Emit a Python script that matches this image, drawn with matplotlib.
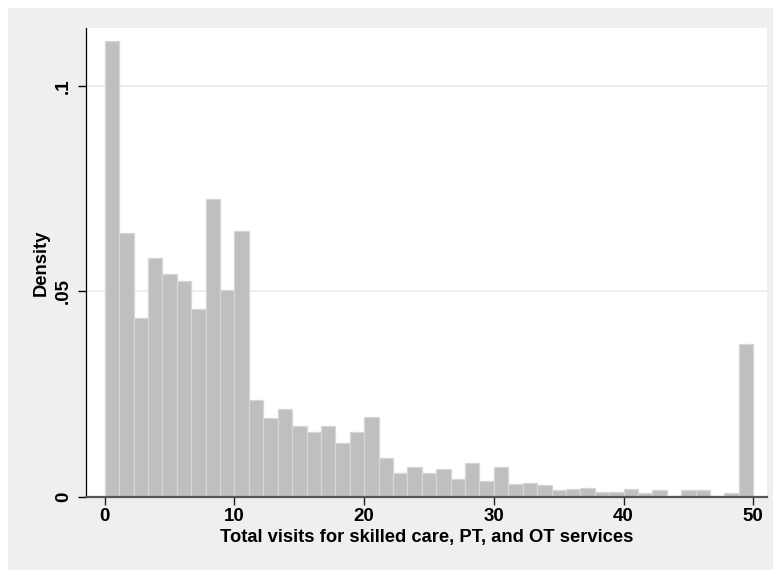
"""
Histogram of total visits (Stata-style density histogram)
"""
import matplotlib.pyplot as plt
import numpy as np
from matplotlib.patches import Rectangle

plt.rcParams['font.family'] = ['Liberation Sans', 'DejaVu Sans']

# 45 bins of equal width from 0 to 50
bin_lo = 0.0
bin_hi = 50.0
n_bins = 45
density = [
    0.1110, 0.0642, 0.0436, 0.0582, 0.0542, 0.0525, 0.0457, 0.0726, 0.0504, 0.0648,
    0.0235, 0.0193, 0.0213, 0.0172, 0.0158, 0.0172, 0.0131, 0.0158, 0.0195, 0.0096,
    0.0059, 0.0074, 0.0059, 0.0067, 0.0045, 0.0083, 0.0038, 0.0074, 0.0032, 0.0035,
    0.0028, 0.0016, 0.0020, 0.0023, 0.0013, 0.0013, 0.0019, 0.0010, 0.0017, 0.0002,
    0.0016, 0.0016, 0.0002, 0.0010, 0.0372,
]
x_ticks = [0, 10, 20, 30, 40, 50]
y_ticks = [0, 0.05, 0.1]
y_ticklabels = ['0', '.05', '.1']

COLORS = {
    'bg': '#efefef',
    'bar': '#bfbfbf',
    'bar_edge': '#d6d6d6',
    'grid': '#eaeaea',
    'xaxis': '#555555',
    'text': '#000000',
}

W, H = 773, 570
fig = plt.figure(figsize=(W / 100, H / 100), dpi=100, facecolor='white')
# gray graph region, leaving a thin white strip on top and left
fig.patches.append(Rectangle((8 / W, 0), 1, (H - 8) / H, transform=fig.transFigure,
                             facecolor=COLORS['bg'], edgecolor='none', zorder=-10))

ax = fig.add_axes([86 / W, (H - 497) / H, (767 - 86) / W, (497 - 28) / H])
ax.set_facecolor('white')

width = (bin_hi - bin_lo) / n_bins
edges = bin_lo + width * np.arange(n_bins)
ax.bar(edges, density, width=width, align='edge', color=COLORS['bar'],
       edgecolor=COLORS['bar_edge'], linewidth=0.9, zorder=2)

ax.set_xlim(-1.45, 51.06)
ax.set_ylim(0, 0.1141)

for v in y_ticks[1:]:
    ax.axhline(v, color=COLORS['grid'], lw=1.1, zorder=1)

for s in ['top', 'right']:
    ax.spines[s].set_visible(False)
ax.spines['left'].set_color('black')
ax.spines['left'].set_linewidth(0.9)
ax.spines['bottom'].set_color(COLORS['xaxis'])
ax.spines['bottom'].set_linewidth(1.6)
ax.spines['bottom'].set_zorder(3)

ax.set_xticks(x_ticks)
ax.set_xticklabels([str(t) for t in x_ticks], fontsize=13.5, fontweight='bold')
ax.set_yticks(y_ticks)
ax.set_yticklabels(y_ticklabels, fontsize=13.5, fontweight='bold',
                   rotation=90, va='center')
ax.tick_params(axis='x', length=6, width=1, color='#222222', pad=2)
ax.tick_params(axis='y', length=6, width=1, color='black', pad=4)

ax.set_xlabel('Total visits for skilled care, PT, and OT services',
              fontsize=13.2, fontweight='bold', labelpad=3)
ax.set_ylabel('Density', fontsize=13.2, fontweight='bold', labelpad=4)

plt.savefig('out.png', dpi=100, facecolor='white')
plt.close()
